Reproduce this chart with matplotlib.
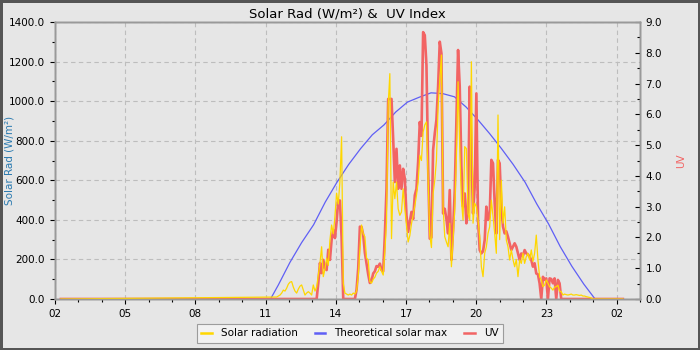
import matplotlib
matplotlib.use('Agg')
import matplotlib.pyplot as plt
import matplotlib.dates as mdates
from matplotlib.ticker import MultipleLocator, FormatStrFormatter
from datetime import datetime, timedelta

# ---------------- data ----------------
base_day = datetime(2024, 6, 1)
night_start = datetime(2024, 6, 1, 2, 15)
night_end = datetime(2024, 6, 2, 2, 16)
day_start = datetime(2024, 6, 1, 11, 28, 26)
step_seconds = 256

solar = [
    10, 15, 20, 30, 45, 40, 55, 75, 85, 88,
    60, 40, 30, 50, 65, 71, 45, 20, 30, 37,
    30, 20, 71, 40, 60, 120, 180, 264, 113, 150,
    207, 170, 298, 374, 330, 416, 535, 480, 593, 820,
    80, 30, 25, 20, 25, 20, 30, 25, 40, 113,
    250, 374, 330, 315, 207, 197, 88, 80, 100, 110,
    131, 140, 163, 140, 121, 238, 389, 979, 1139, 305,
    591, 507, 591, 456, 423, 440, 557, 456, 372, 288,
    320, 380, 423, 470, 524, 591, 726, 700, 844, 880,
    895, 608, 322, 260, 534, 600, 702, 972, 1100, 1233,
    466, 315, 288, 264, 383, 163, 298, 450, 719, 1098,
    770, 500, 399, 770, 760, 433, 399, 1199, 383, 484,
    466, 399, 315, 163, 113, 231, 264, 332, 365, 500,
    420, 332, 231, 930, 300, 600, 383, 466, 298, 264,
    197, 248, 200, 163, 200, 113, 197, 180, 231, 180,
    214, 231, 197, 248, 190, 231, 323, 197, 113, 96,
    62, 70, 96, 80, 62, 55, 45, 60, 62, 70,
    40, 37, 20, 25, 22, 20, 22, 25, 20, 20,
    22, 20, 18, 20, 15, 15, 12, 10, 8, 5,
    0,
]

uv = [
    0, 0, 0, 0, 0, 0, 0, 0, 0, 0,
    0, 0, 0, 0, 0, 0, 0, 0, 0, 0,
    0, 0, 0, 0, 0, 0.52, 1.17, 0.84, 1.27, 1.0,
    0.94, 1.6, 1.27, 1.92, 2.24, 1.98, 2.51, 3.2, 3.2, 2.0,
    0, 0, 0, 0, 0, 0, 0, 0, 0.3, 1.0,
    2.35, 2.34, 2.08, 1.5, 1.16, 0.8, 0.52, 0.6, 0.83, 0.9,
    1.07, 1.05, 1.15, 0.94, 0.9, 2.07, 3.58, 6.5, 6.5, 6.5,
    5.2, 3.8, 4.88, 3.58, 4.34, 3.58, 4.23, 3.91, 2.72, 2.18,
    2.5, 2.83, 2.6, 3.37, 3.58, 4.45, 5.75, 5.3, 8.67, 8.57,
    7.6, 4.34, 1.96, 2.0, 4.84, 5.38, 5.82, 6.9, 8.36, 7.98,
    2.78, 2.93, 2.6, 2.13, 3.54, 1.27, 2.24, 3.5, 5.82, 8.09,
    6.9, 4.3, 3.0, 3.43, 2.46, 2.89, 6.9, 4.73, 2.78, 3.65,
    6.68, 2.57, 1.59, 1.48, 1.55, 1.92, 3.0, 2.57, 2.7, 4.52,
    4.41, 3.11, 2.13, 4.52, 4.41, 3.0, 2.35, 2.13, 2.2, 2.02,
    1.81, 1.59, 1.70, 1.81, 1.7, 1.48, 1.27, 1.48, 1.4, 1.59,
    1.48, 1.45, 1.37, 1.27, 1.05, 1.16, 0.83, 0.8, 0.51, 0,
    0.72, 0.62, 0.67, 0, 0.67, 0.65, 0.51, 0.67, 0, 0.62,
    0.51, 0, 0, 0, 0, 0, 0, 0, 0, 0,
    0, 0, 0, 0, 0, 0, 0, 0, 0, 0,
    0,
]

theo_hours = [2.25, 11.21, 11.54, 12.04, 12.54, 13.05, 13.55, 14.05, 14.55, 15.06,
              15.56, 16.06, 16.56, 17.06, 17.57, 18.07, 18.57, 19.07, 19.57, 20.08,
              20.58, 21.08, 21.58, 22.09, 22.59, 23.09, 23.59, 24.09, 24.6, 25.08,
              26.26]
theo_vals = [0, 0, 70, 185, 285, 375, 490, 590, 680, 760,
             830, 880, 945, 995, 1020, 1042, 1038, 1022, 970, 905,
             835, 760, 680, 590, 480, 380, 265, 165, 75, 0,
             0]

title = "Solar Rad (W/m\u00b2) &  UV Index"
left_label = "Solar Rad (W/m\u00b2)"
right_label = "UV"
legend_labels = ["Solar radiation", "Theoretical solar max", "UV"]
x_start = datetime(2024, 6, 1, 2, 0)
x_end = datetime(2024, 6, 2, 3, 0)

# ---------------- build time axes ----------------
day_times = [day_start + timedelta(seconds=step_seconds * i) for i in range(len(solar))]
times = [night_start] + day_times + [night_end]
solar_full = [0] + solar + [0]
uv_full = [0] + uv + [0]
theo_times = [base_day + timedelta(hours=h) for h in theo_hours]

# ---------------- styling ----------------
plt.rcParams['font.family'] = ['DejaVu Sans']
plt.rcParams['font.size'] = 7.5
BG = '#e6e6e6'
SPINE = '#999999'
C_SOLAR = '#ffd700'
C_THEO = '#5f5ff5'
C_UV = '#f26464'
C_LEFTLBL = '#2a7ab0'

fig = plt.figure(figsize=(7, 3.5), dpi=100, facecolor=BG)
fig.patch.set_edgecolor('#555555')
fig.patch.set_linewidth(2.5)

pos = [55 / 700, 1 - 299 / 350, (640 - 55) / 700, (299 - 22) / 350]
ax1 = fig.add_axes(pos)
ax1.set_facecolor(BG)
ax2 = ax1.twinx()
ax3 = fig.add_axes(pos, sharex=ax1, sharey=ax1)
ax3.patch.set_visible(False)
ax1.set_zorder(0)
ax2.set_zorder(1)
ax3.set_zorder(2)

l_theo, = ax1.plot(theo_times, theo_vals, color=C_THEO, lw=0.9)
l_uv, = ax2.plot(times, uv_full, color=C_UV, lw=1.9)
l_solar, = ax3.plot(times, solar_full, color=C_SOLAR, lw=0.9)

ax1.set_xlim(x_start, x_end)
ax1.set_ylim(0, 1400)
ax2.set_ylim(0, 9)

ax1.xaxis.set_major_locator(mdates.HourLocator(byhour=[2, 5, 8, 11, 14, 17, 20, 23]))
ax1.xaxis.set_minor_locator(mdates.HourLocator())
ax1.xaxis.set_major_formatter(mdates.DateFormatter('%H'))
ax1.yaxis.set_major_locator(MultipleLocator(200))
ax1.yaxis.set_minor_locator(MultipleLocator(100))
ax1.yaxis.set_major_formatter(FormatStrFormatter('%.1f'))
ax2.yaxis.set_major_locator(MultipleLocator(1))
ax2.yaxis.set_minor_locator(MultipleLocator(0.5))
ax2.yaxis.set_major_formatter(FormatStrFormatter('%.1f'))

ax1.grid(True, which='major', linestyle=(0, (4, 3)), color='#bdbdbd', lw=0.8)
ax1.set_axisbelow(True)

ax1.tick_params(which='major', direction='out', length=3.6, width=0.8, labelsize=7.5, colors='black')
ax1.tick_params(which='minor', direction='out', length=2.0, width=0.8, colors='black')
ax2.tick_params(which='major', direction='in', length=3.6, width=0.8, labelsize=7.5, colors='black', pad=4)
ax2.tick_params(which='minor', direction='in', length=2.0, width=0.8, colors='black')
ax3.tick_params(which='both', left=False, right=False, bottom=False, top=False,
                labelleft=False, labelbottom=False)

for a in (ax1, ax2, ax3):
    for s in a.spines.values():
        s.set_color(SPINE)
        s.set_linewidth(1.0)

ax1.set_ylabel(left_label, color=C_LEFTLBL, fontsize=7.5)
ax1.yaxis.set_label_coords(-0.069, 0.5)
ax2.set_ylabel(right_label, color=C_UV, fontsize=7.5)
ax2.yaxis.set_label_coords(1.0615, 0.5)
ax1.set_title(title, fontsize=9.5, pad=3)

leg = fig.legend([l_solar, l_theo, l_uv], legend_labels, loc='lower center',
                 bbox_to_anchor=(0.5, 0.005), ncol=3, fontsize=7.5, frameon=True,
                 fancybox=False, handlelength=1.0, handletextpad=0.9,
                 columnspacing=1.6, borderpad=0.45)
leg.get_frame().set_facecolor('#f4f4f4')
leg.get_frame().set_edgecolor('#888888')
leg.get_frame().set_linewidth(0.8)
for line in leg.get_lines():
    line.set_linewidth(1.8)

fig.savefig('out.png', dpi=100, facecolor=fig.get_facecolor(), edgecolor=fig.patch.get_edgecolor())
